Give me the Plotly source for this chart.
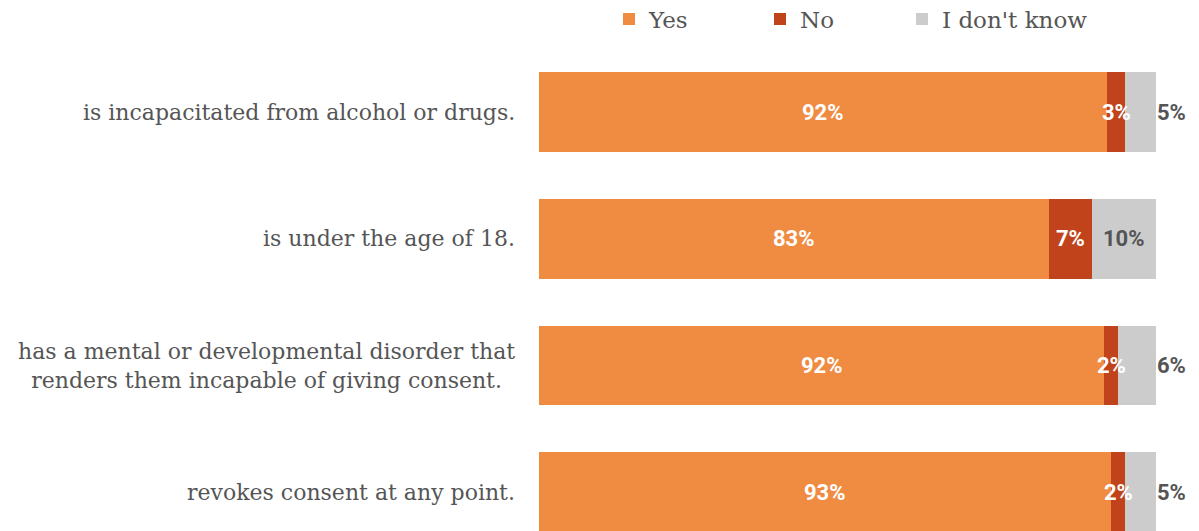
import plotly.graph_objects as go

categories = [
    "is incapacitated from alcohol or drugs.",
    "is under the age of 18.",
    "has a mental or developmental disorder that<br>renders them incapable of giving consent.",
    "revokes consent at any point.",
]
yes_vals = [92.1, 82.7, 91.6, 92.7]
no_vals = [2.9, 7.0, 2.3, 2.3]
idk_vals = [5.0, 10.3, 6.1, 5.0]
series_names = ["Yes", "No", "I don't know"]
colors = ["#F08C42", "#C0431B", "#CCCCCD"]

# page body has an 8px default margin; compensate so the chart sits at the window origin
PAGE_OFF = 8
W, H = 1199 - PAGE_OFF, 531 - PAGE_OFF
legend_ids = ["legend", "legend2", "legend3"]
legend_px = [609, 760, 902]

idx = list(range(len(categories)))
fig = go.Figure()
for name, vals, col, lg in zip(series_names, [yes_vals, no_vals, idk_vals], colors, legend_ids):
    fig.add_trace(go.Bar(
        name=name, x=vals, y=idx, orientation="h",
        marker=dict(color=col, line=dict(width=0)),
        hoverinfo="x+name", legend=lg,
    ))

annotations = []
label_font = "Roboto, Arial, sans-serif"
cat_font = dict(family="Roboto Slab, DejaVu Serif, serif", size=22, color="#555555")
for i in idx:
    y0, n0, d0 = yes_vals[i], no_vals[i], idk_vals[i]
    annotations.append(dict(x=y0 / 2, y=i, xref="x", yref="y", text=f"{round(y0)}%",
                            showarrow=False, font=dict(family=label_font, size=22, color="white", weight="bold")))
    annotations.append(dict(x=y0 + n0 / 2, y=i, xref="x", yref="y", text=f"{round(n0)}%",
                            showarrow=False, font=dict(family=label_font, size=22, color="white", weight="bold")))
    end = y0 + n0 + d0
    if d0 >= 10:
        annotations.append(dict(x=y0 + n0 + d0 / 2, y=i, xref="x", yref="y", text=f"{round(d0)}%",
                                showarrow=False, font=dict(family=label_font, size=22, color="#555555", weight="bold")))
    else:
        annotations.append(dict(x=end, y=i, xref="x", yref="y", text=f"{round(d0)}%", xanchor="left", xshift=-1,
                                showarrow=False, font=dict(family=label_font, size=22, color="#555555", weight="bold")))
    annotations.append(dict(x=0, y=i, xref="paper", yref="y", text=categories[i], xanchor="right", align="center",
                            xshift=-22, showarrow=False, font=cat_font))

legend_font = dict(family="Roboto Slab, DejaVu Serif, serif", size=23, color="#555555")
legend_layout = {}
for lg, px in zip(legend_ids, legend_px):
    legend_layout[lg] = dict(orientation="h", xref="container", yref="container",
                             x=(px - PAGE_OFF) / W, y=1 - (19 - PAGE_OFF) / H,
                             xanchor="left", yanchor="middle", font=legend_font,
                             itemclick=False, itemdoubleclick=False, bgcolor="rgba(0,0,0,0)")

fig.update_layout(
    barmode="stack",
    bargap=0.37,
    width=W, height=H,
    margin=dict(l=539 - PAGE_OFF, r=43, t=49 - PAGE_OFF, b=0),
    paper_bgcolor="white", plot_bgcolor="white",
    xaxis=dict(range=[0, 100], visible=False, fixedrange=True),
    yaxis=dict(range=[3.307, -0.5], showticklabels=False, showgrid=False, zeroline=False,
               showline=False, ticks="", fixedrange=True),
    showlegend=True,
    annotations=annotations,
    **legend_layout,
)
fig.write_html("out.html")
